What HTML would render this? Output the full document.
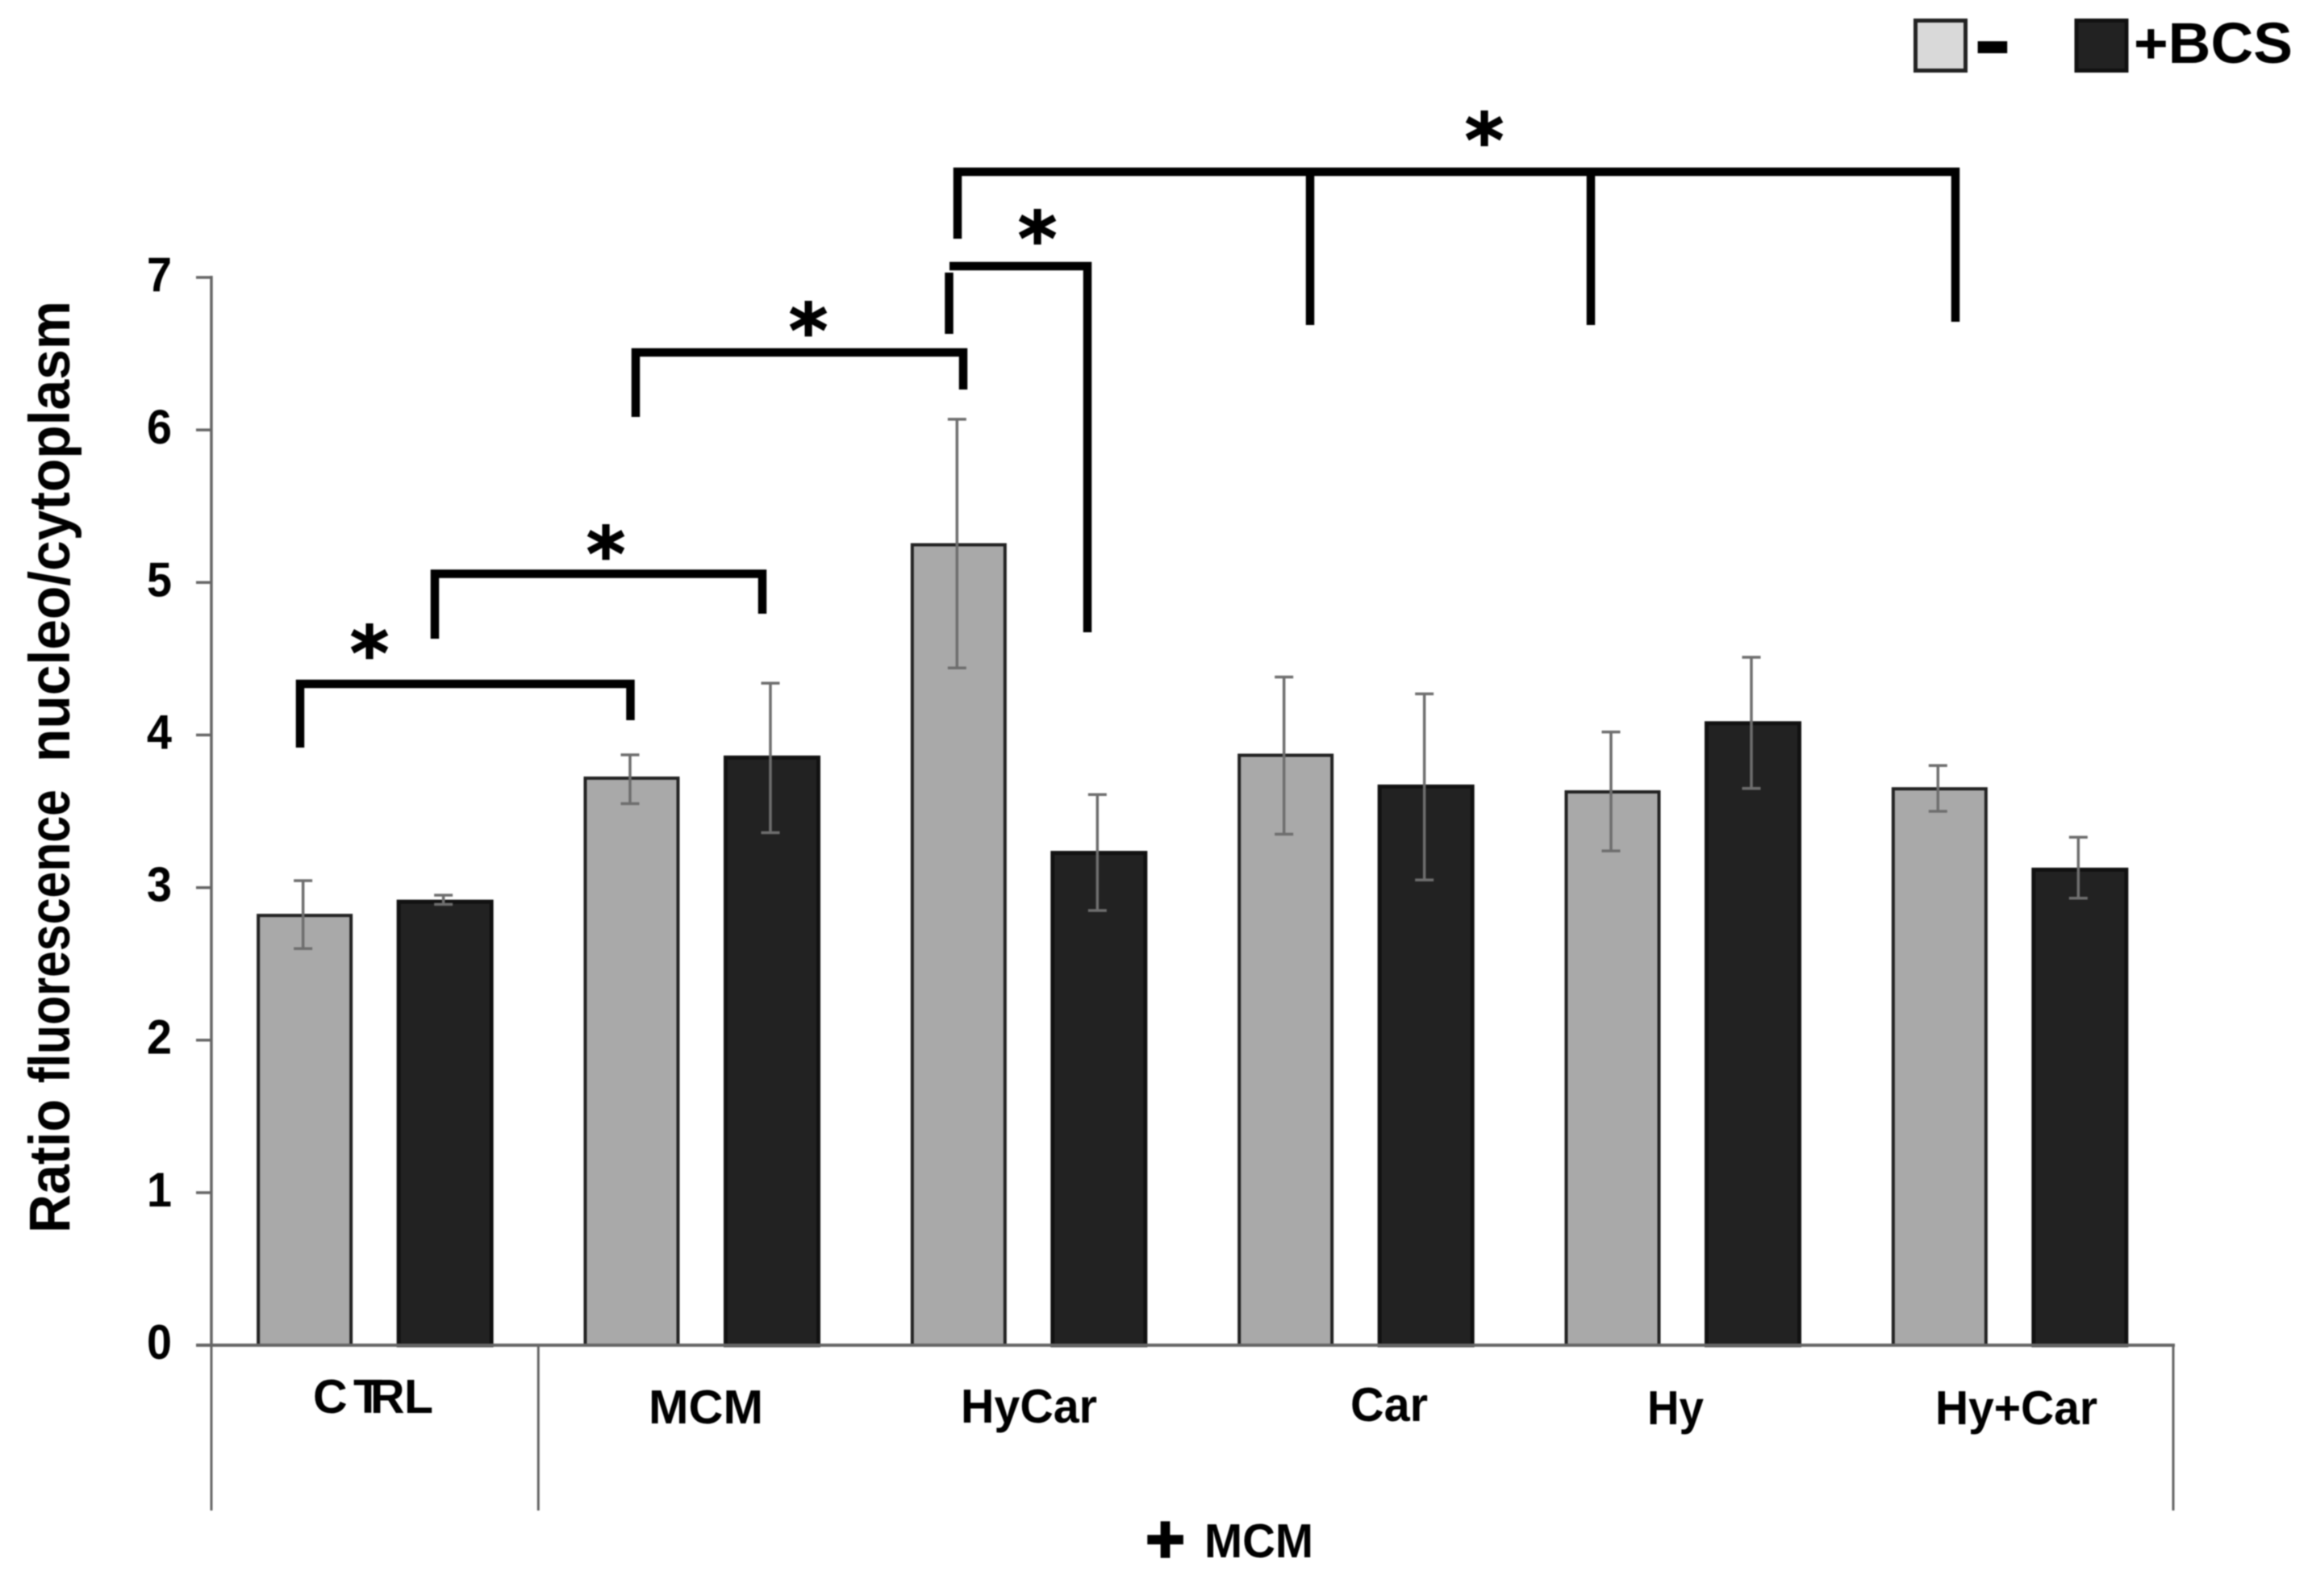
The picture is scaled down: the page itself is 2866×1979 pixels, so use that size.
<!DOCTYPE html>
<html lang="en">
<head>
<meta charset="utf-8">
<title>Ratio fluorescence nucleo/cytoplasm</title>
<style>
html,body{margin:0;padding:0;background:#fff;}
svg{display:block;filter:blur(0.9px);}
text{font-family:"Liberation Sans",Arial,sans-serif;font-weight:700;fill:#000;}
.br{fill:none;stroke:#000;stroke-width:10.5;stroke-linejoin:miter;}
.star{font-family:"DejaVu Sans","Liberation Sans",sans-serif;font-size:92px;text-anchor:middle;stroke:#000;stroke-width:1.5;}
.xl{font-size:59px;}
</style>
</head>
<body>
<svg id="chart" xmlns="http://www.w3.org/2000/svg" width="2866" height="1979" viewBox="0 0 2866 1979">
  <rect x="0" y="0" width="2866" height="1979" fill="#fff"/>

  <g font-size="71">
    <text transform="translate(86,1529) rotate(-90)" textLength="166" lengthAdjust="spacingAndGlyphs">Ratio</text>
    <text transform="translate(86,1343) rotate(-90)" textLength="364" lengthAdjust="spacingAndGlyphs">fluorescence</text>
    <text transform="translate(86,945) rotate(-90)" textLength="572" lengthAdjust="spacingAndGlyphs">nucleo/cytoplasm</text>
  </g>

  <g id="y-axis"></g>
  <g id="bars"></g>
  <g id="x-axis"></g>

  <g>
    <text class="xl" x="388 438 459 501" y="1752">CTRL</text>
    <text class="xl" x="804" y="1765" textLength="142" lengthAdjust="spacingAndGlyphs">MCM</text>
    <text class="xl" x="1191" y="1764" textLength="169" lengthAdjust="spacingAndGlyphs">HyCar</text>
    <text class="xl" x="1674" y="1762" textLength="96" lengthAdjust="spacingAndGlyphs">Car</text>
    <text class="xl" x="2042" y="1766" textLength="70" lengthAdjust="spacingAndGlyphs">Hy</text>
    <text class="xl" x="2399" y="1766" textLength="201" lengthAdjust="spacingAndGlyphs">Hy+Car</text>
  </g>

  <g>
    <text x="1444.5" y="1937" font-size="84" text-anchor="middle" stroke="#000" stroke-width="2.5">+</text>
    <text x="1493" y="1931" font-size="59" textLength="135" lengthAdjust="spacingAndGlyphs">MCM</text>
  </g>

  <g>
    <path class="br" d="M372 927V848H781.5V893"/>
    <text class="star" x="458" y="842">*</text>
    <path class="br" d="M539 792V711.5H945V761"/>
    <text class="star" x="751" y="719">*</text>
    <path class="br" d="M788 517V437H1194V483"/>
    <text class="star" x="1002" y="442">*</text>
    <path class="br" d="M1176.5 414V338M1177 330H1348V784"/>
    <text class="star" x="1286" y="328">*</text>
    <path class="br" d="M1187 296V213H2424V399"/>
    <path class="br" d="M1624 213V403"/>
    <path class="br" d="M1972 213V403"/>
    <text class="star" x="1840" y="206">*</text>
  </g>

  <g>
    <rect x="2374.5" y="25.5" width="62" height="62" fill="#d9d9d9" stroke="#222" stroke-width="5"/>
    <text x="2446" y="91" font-size="125" textLength="48" lengthAdjust="spacingAndGlyphs">-</text>
    <rect x="2574" y="25.5" width="62" height="62" fill="#222" stroke="#111" stroke-width="5"/>
    <text x="2645" y="78" font-size="71" textLength="197" lengthAdjust="spacingAndGlyphs">+BCS</text>
  </g>
</svg>

<script>
var categories = ['CTRL', 'MCM', 'HyCar', 'Car', 'Hy', 'Hy+Car'];
var seriesNames = ['control', 'bcs'];
var controlValues = [2.82, 3.72, 5.25, 3.87, 3.63, 3.65];
var bcsValues = [2.91, 3.855, 3.23, 3.665, 4.08, 3.12];
var controlErrHigh = [3.045, 3.87, 6.07, 4.38, 4.02, 3.80];
var controlErrLow = [2.60, 3.55, 4.44, 3.35, 3.24, 3.50];
var bcsErrHigh = [2.95, 4.34, 3.61, 4.27, 4.51, 3.33];
var bcsErrLow = [2.89, 3.36, 2.85, 3.05, 3.65, 2.93];
var yTicks = [0, 1, 2, 3, 4, 5, 6, 7];

var NS = 'http://www.w3.org/2000/svg';
function yScale(v) { return 1668 - v * (1668 - 344) / 7; }
function xBand(i) { return 262 + i * (2694 - 262) / categories.length; }
function xCenter(i) { return xBand(i) + (2694 - 262) / categories.length / 2; }
function xBar(i, s) { return xCenter(i) + (s === 0 ? -87 : 87); }
var barWidth = 119;

function make(tag, attrs, parent) {
  var el = document.createElementNS(NS, tag);
  for (var k in attrs) { el.setAttribute(k, attrs[k]); }
  parent.appendChild(el);
  return el;
}

var yAxis = document.getElementById('y-axis');
var xAxis = document.getElementById('x-axis');
var barsG = document.getElementById('bars');

var yLine = make('line', {x1: 262, x2: 262, y1: yScale(7) - 2, y2: yScale(0), stroke: '#666', 'stroke-width': 3.5}, yAxis);



yTicks.forEach(function (t) {
  var tick = make('line', {x1: 243, x2: 262, y1: yScale(t), y2: yScale(t), stroke: '#666', 'stroke-width': 3.5}, yAxis);
  
  
  var lab = make('text', {x: 213, y: yScale(t) + 17, 'font-size': 60, 'text-anchor': 'end', textLength: 31, lengthAdjust: 'spacingAndGlyphs'}, yAxis);
  
  
  lab.textContent = t;
});

function drawBar(i, s, value, hi, lo) {
  var cx = xBar(i, s);
  var top = yScale(value);
  var rect = make('rect', {
    x: cx - barWidth / 2 + 2, y: top + 0.5, width: barWidth - 4, height: yScale(0) - top - 0.5,
    fill: s === 0 ? '#a9a9a9' : '#222',
    stroke: s === 0 ? '#222' : '#111',
    'stroke-width': s === 0 ? 4 : 5
  }, barsG);
  
  
  var ex = cx - 2;
  var err = make('path', {
    d: 'M' + ex + ' ' + yScale(lo) + 'V' + yScale(hi) +
       'M' + (ex - 11.5) + ' ' + yScale(hi) + 'H' + (ex + 11.5) +
       'M' + (ex - 11.5) + ' ' + yScale(lo) + 'H' + (ex + 11.5),
    fill: 'none', stroke: '#6e6e6e', 'stroke-width': 3.5
  }, barsG);
  
  
}

categories.forEach(function (c, i) {
  drawBar(i, 0, controlValues[i], controlErrHigh[i], controlErrLow[i]);
  drawBar(i, 1, bcsValues[i], bcsErrHigh[i], bcsErrLow[i]);
});

var xLine = make('line', {x1: 243, x2: 2696, y1: yScale(0), y2: yScale(0), stroke: '#666', 'stroke-width': 4}, xAxis);



[0, 1, categories.length].forEach(function (i) {
  var d = make('line', {x1: xBand(i), x2: xBand(i), y1: yScale(0), y2: 1873, stroke: '#666', 'stroke-width': 3}, xAxis);
  
  
});
</script>
</body>
</html>
